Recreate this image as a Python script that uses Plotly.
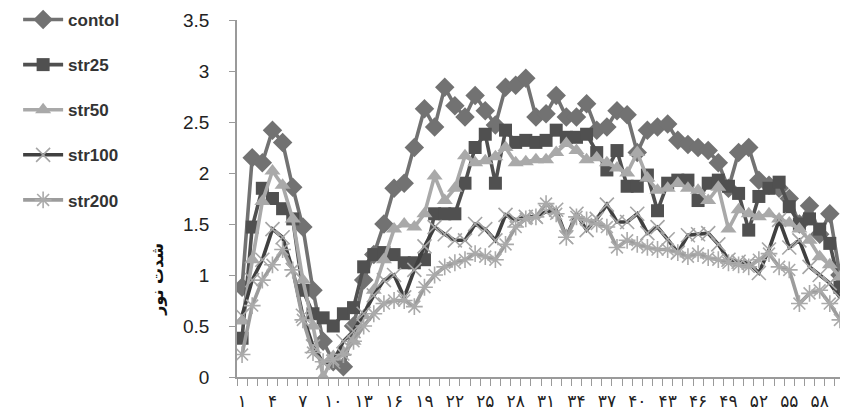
import plotly.graph_objects as go

days = list(range(1, 61))

contol = [0.88, 2.15, 2.1, 2.42, 2.3, 1.86, 1.47, 0.85, 0.35, 0.15,
          0.1, 0.5, 0.95, 1.2, 1.5, 1.85, 1.9, 2.25, 2.63, 2.45,
          2.84, 2.66, 2.55, 2.76, 2.61, 2.47, 2.84, 2.86, 2.93, 2.55,
          2.58, 2.76, 2.55, 2.55, 2.68, 2.42, 2.45, 2.61, 2.57, 2.2,
          2.42, 2.45, 2.48, 2.32, 2.28, 2.25, 2.22, 2.1, 1.85, 2.2,
          2.25, 1.93, 1.88, 1.85, 1.75, 1.5, 1.68, 1.4, 1.6, 1.0]

str25 = [0.38, 1.47, 1.85, 1.75, 1.65, 1.55, 0.85, 0.62, 0.58, 0.5,
         0.62, 0.68, 1.08, 1.2, 1.22, 1.2, 1.12, 1.12, 1.15, 1.6,
         1.6, 1.6, 1.9, 2.25, 2.38, 1.9, 2.42, 2.3, 2.32, 2.3,
         2.32, 2.42, 2.35, 2.35, 2.38, 2.2, 2.03, 2.22, 1.87, 1.87,
         1.98, 1.63, 1.9, 1.93, 1.93, 1.73, 1.9, 1.93, 1.87, 1.8,
         1.44, 1.77, 1.85, 1.91, 1.67, 1.5, 1.55, 1.45, 1.31, 0.88]

str50 = [0.55, 1.15, 1.72, 2.02, 1.88, 1.55, 0.95, 0.5, 0.0, 0.2,
         0.24, 0.35, 0.6, 0.85, 1.15, 1.45, 1.5, 1.47, 1.6, 1.97,
         1.73, 1.85, 2.17, 2.1, 2.12, 2.16, 2.25, 2.1, 2.11, 2.13,
         2.13, 2.2, 2.29, 2.22, 2.13, 2.15, 2.1, 2.05, 2.0, 2.2,
         1.95, 1.83, 1.85, 1.9, 1.85, 1.83, 1.73, 1.86, 1.45, 1.64,
         1.6, 1.57, 1.6, 1.55, 1.51, 1.45, 1.34, 1.18, 1.1, 0.98]

str100 = [0.6, 0.95, 1.15, 1.45, 1.37, 1.05, 0.6, 0.3, 0.14, 0.15,
          0.35, 0.45, 0.62, 0.8, 0.95, 1.0, 0.78, 1.05, 1.28, 1.47,
          1.4, 1.34, 1.34, 1.5, 1.45, 1.34, 1.59, 1.54, 1.57, 1.57,
          1.62, 1.64, 1.37, 1.6, 1.44, 1.55, 1.69, 1.52, 1.52, 1.6,
          1.41, 1.47, 1.35, 1.22, 1.39, 1.4, 1.41, 1.3, 1.15, 1.13,
          1.12, 1.02, 1.25, 1.54, 1.27, 1.34, 1.08, 1.0, 0.92, 0.78]

str200 = [0.22, 0.7, 0.95, 1.1, 1.25, 1.05, 0.56, 0.24, 0.15, 0.17,
          0.22, 0.35, 0.5, 0.62, 0.72, 0.75, 0.75, 0.69, 0.88, 1.0,
          1.08, 1.12, 1.15, 1.21, 1.18, 1.15, 1.3, 1.47, 1.55, 1.57,
          1.7, 1.6, 1.37, 1.57, 1.54, 1.5, 1.47, 1.27, 1.34, 1.3,
          1.27, 1.25, 1.25, 1.22, 1.18, 1.21, 1.17, 1.15, 1.12, 1.1,
          1.08, 1.15, 1.21, 1.08, 1.05, 0.72, 0.82, 0.85, 0.72, 0.56]

tick_days = list(range(1, 59, 3))
persian = str.maketrans("0123456789", "۰۱۲۳۴۵۶۷۸۹")
tick_text = [str(d).translate(persian) for d in tick_days]

series = [
    ("contol", contol, "#727272", "#727272", "diamond", 15, 0),
    ("str25", str25, "#505050", "#505050", "square", 13, 0),
    ("str50", str50, "#a9a9a9", "#a9a9a9", "triangle-up", 14, 0),
    ("str100", str100, "#404040", "#a5a5a5", "x-thin-open", 14, 1.6),
    ("str200", str200, "#9c9c9c", "#aaaaaa", "asterisk-open", 14, 1.6),
]

fig = go.Figure()
for name, vals, lc, mc, sym, ms, mlw in series:
    marker = dict(symbol=sym, size=ms, color=mc)
    marker["line"] = dict(color=mc, width=mlw) if mlw else dict(width=0)
    fig.add_trace(go.Scatter(
        x=days, y=vals, name=name, mode="lines+markers",
        line=dict(color=lc, width=3.6),
        marker=marker, legendgroup=name,
    ))

fig.update_layout(
    width=840, height=410,
    margin=dict(l=229, r=3, t=12, b=41, autoexpand=False),
    paper_bgcolor="white", plot_bgcolor="white",
    font=dict(family="Liberation Sans, Arial, sans-serif", color="#222"),
    showlegend=True,
    legend=dict(
        x=-0.36, y=0.748, xanchor="left", yanchor="middle",
        traceorder="grouped", tracegroupgap=20,
        font=dict(size=17, color="#333", weight="bold"),
        bgcolor="rgba(0,0,0,0)", itemwidth=40,
    ),
    xaxis=dict(
        range=[0.5, 60.5], showgrid=False, zeroline=False,
        showline=True, linecolor="#9a9a9a", linewidth=1.5,
        tickvals=tick_days, ticktext=tick_text, ticks="",
        ticklabelstandoff=8,
        tickfont=dict(size=17, family="DejaVu Sans", color="#222"),
        minor=dict(tick0=0.5, dtick=1, ticks="outside", ticklen=7,
                   tickcolor="#9a9a9a", tickwidth=1, showgrid=False),
    ),
    yaxis=dict(
        range=[0, 3.5], dtick=0.5, showgrid=False, zeroline=False,
        showline=True, linecolor="#9a9a9a", linewidth=1.5,
        ticks="outside", ticklen=6, tickcolor="#9a9a9a",
        tickfont=dict(size=19, color="#222"), ticklabelstandoff=16,
    ),
    annotations=[dict(
        text="<b>شدت نور</b>", textangle=-90, xref="paper", yref="paper",
        x=-0.13, y=0.275, xanchor="center", yanchor="middle",
        showarrow=False,
        font=dict(size=16, family="DejaVu Sans", color="#111"),
    )],
)

fig.write_html("out.html")
